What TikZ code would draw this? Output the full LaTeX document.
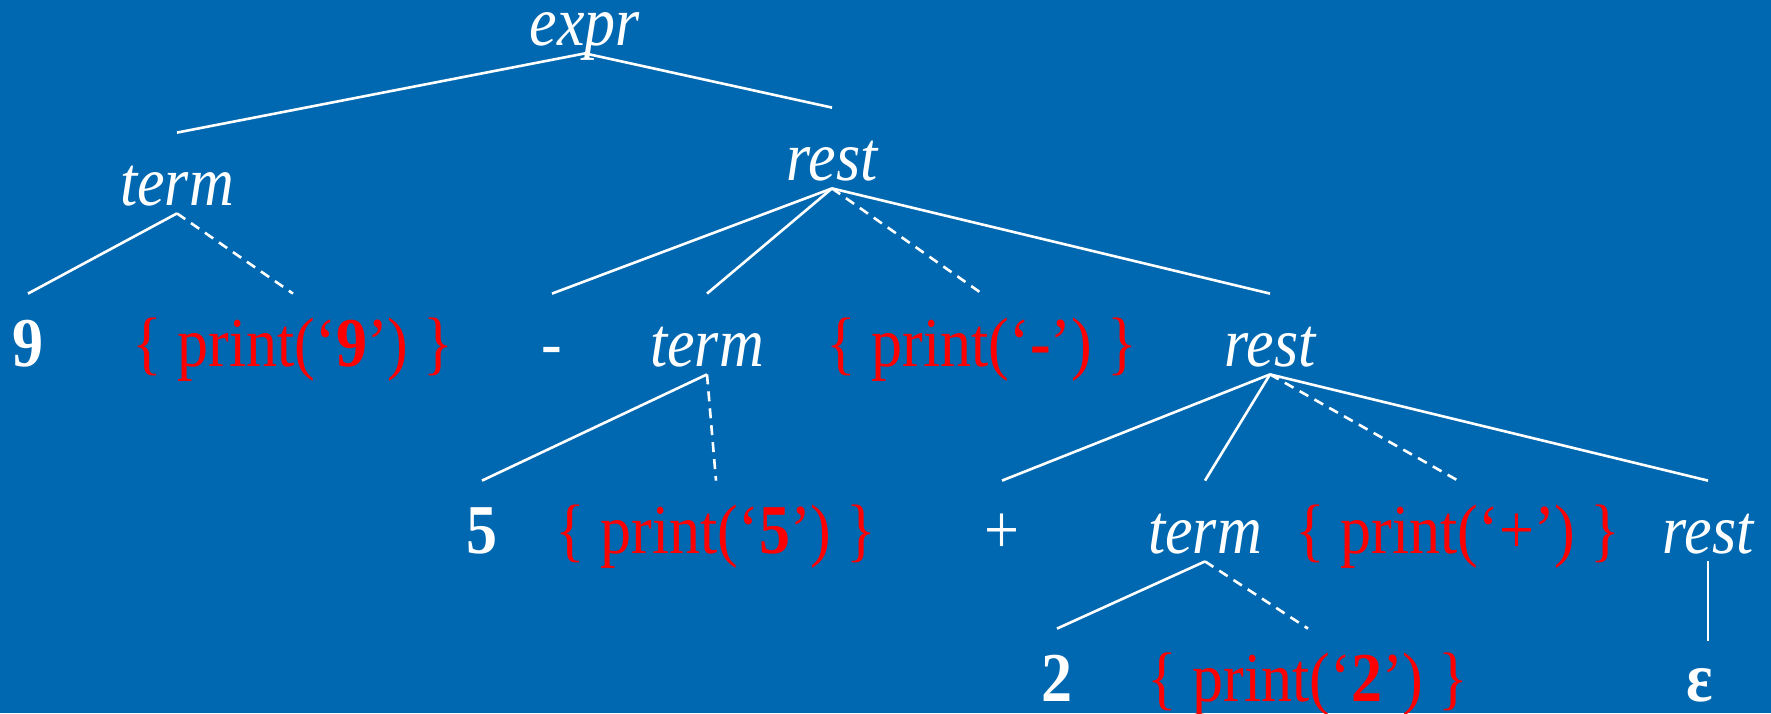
\documentclass[tikz,border=0pt]{standalone}
\usepackage{fontspec}
\setmainfont{Liberation Serif}[FakeStretch=0.886]
\usepackage{tikz}
\definecolor{slideBlue}{RGB}{0,104,176}
\definecolor{actRed}{RGB}{255,0,0}

\tikzset{
  sym/.style={anchor=base, inner sep=0pt, text height=36pt, text depth=4pt,
    text=white, font=\fontsize{35}{40}\selectfont},
  nt/.style={sym, font=\fontsize{35}{40}\selectfont\itshape},
  act/.style={sym, text=actRed},
  branch/.style={white, line width=1.3pt},
  actbranch/.style={branch, dash pattern=on 5pt off 3.5pt},
}

\begin{document}
\begin{tikzpicture}[x=0.5pt, y=-0.5pt]
\useasboundingbox (0,0) rectangle (1771,713);
\fill[slideBlue] (0,0) rectangle (1771,713);

% grammar symbols and actions, placed on their baselines
\node[nt, text height=17pt] (expr) at (585,45) {expr};

\node[nt] (term1) at (177,205) {term};
\node[nt] (rest1) at (832,180) {rest};

\node[sym] (n9) at (28,366) {\textbf{9}};
\node[act] (p9) at (293,366) {\{ print(‘\textbf{9}’) \}};
\node[sym] (minus) at (552,366) {-};
\node[nt] (term2) at (707,366) {term};
\node[act] (pminus) at (982,366) {\{ print(‘\textbf{-}’) \}};
\node[nt] (rest2) at (1270,366) {rest};

\node[sym] (n5) at (482,553) {\textbf{5}};
\node[act] (p5) at (716,553) {\{ print(‘\textbf{5}’) \}};
\node[sym] (plus) at (1002,553) {+};
\node[nt] (term3) at (1205,553) {term};
\node[act] (pplus) at (1458,553) {\{ print(‘+’) \}};
\node[nt] (rest3) at (1708,553) {rest};

\node[sym] (n2) at (1057,701) {\textbf{2}};
\node[act] (p2) at (1308,701) {\{ print(‘\textbf{2}’) \}};
\node[sym] (eps) at (1700,701) {\textbf{ε}};

% tree edges
\draw[branch] (expr.south) -- (term1.north);
\draw[branch] (expr.south) -- (rest1.north);

\draw[branch] (term1.south) -- (n9.north);
\draw[actbranch] (term1.south) -- (p9.north);

\draw[branch] (rest1.south) -- (minus.north);
\draw[branch] (rest1.south) -- (term2.north);
\draw[actbranch] (rest1.south) -- (pminus.north);
\draw[branch] (rest1.south) -- (rest2.north);

\draw[branch] (term2.south) -- (n5.north);
\draw[actbranch] (term2.south) -- (p5.north);

\draw[branch] (rest2.south) -- (plus.north);
\draw[branch] (rest2.south) -- (term3.north);
\draw[actbranch] (rest2.south) -- (pplus.north);
\draw[branch] (rest2.south) -- (rest3.north);

\draw[branch] (term3.south) -- (n2.north);
\draw[actbranch] (term3.south) -- (p2.north);

\draw[branch] (rest3.south) -- ([yshift=-6pt]rest3.south |- eps.north);
\end{tikzpicture}
\end{document}
